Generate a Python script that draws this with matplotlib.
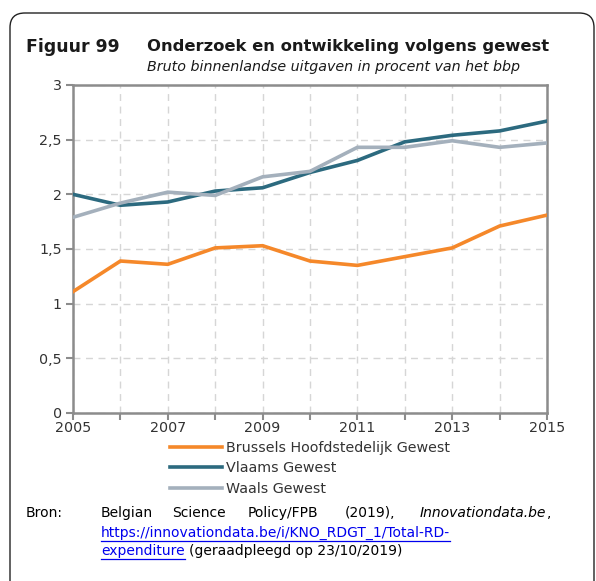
import matplotlib
matplotlib.use('Agg')
import matplotlib.pyplot as plt
from matplotlib.patches import FancyBboxPatch
from matplotlib.lines import Line2D
from matplotlib.ticker import MultipleLocator, FuncFormatter

years = [2005, 2006, 2007, 2008, 2009, 2010, 2011, 2012, 2013, 2014, 2015]
brussels = [1.11, 1.39, 1.36, 1.51, 1.53, 1.39, 1.35, 1.43, 1.51, 1.71, 1.81]
vlaams = [2.00, 1.90, 1.93, 2.03, 2.06, 2.20, 2.31, 2.48, 2.54, 2.58, 2.67]
waals = [1.79, 1.92, 2.02, 1.99, 2.16, 2.21, 2.43, 2.43, 2.49, 2.43, 2.47]
year_labels = [2005, 2007, 2009, 2011, 2013, 2015]
series_names = ['Brussels Hoofdstedelijk Gewest', 'Vlaams Gewest', 'Waals Gewest']
series_colors = ['#F5882A', '#2C6A7F', '#A4B0BC']

W, H = 596, 581
plt.rcParams['font.family'] = 'DejaVu Sans'

fig = plt.figure(figsize=(W / 100, H / 100), dpi=100)


def fx(px):
    return px / W


def fy(py):
    return 1 - py / H


# frame round the whole figure block
box = FancyBboxPatch((fx(10), fy(600)), fx(584), (600 - 13) / H,
                     boxstyle='round,pad=0,rounding_size=0.025',
                     transform=fig.transFigure, facecolor='none',
                     edgecolor='#222222', linewidth=1.0, clip_on=False)
fig.patches.append(box)

fig.text(fx(26), fy(47), 'Figuur 99', fontsize=12.4, fontweight='bold',
         va='center', ha='left', color='#1a1a1a')
fig.text(fx(147), fy(47), 'Onderzoek en ontwikkeling volgens gewest',
         fontsize=11.8, fontweight='bold', va='center', ha='left', color='#1a1a1a')
fig.text(fx(147), fy(67), 'Bruto binnenlandse uitgaven in procent van het bbp',
         fontsize=10.3, style='italic', va='center', ha='left', color='#1a1a1a')

ax = fig.add_axes([fx(73), fy(413), (547 - 73) / W, (413 - 85) / H])
data = [brussels, vlaams, waals]
handles = []
for vals, name, col in zip(data, series_names, series_colors):
    ln, = ax.plot(years, vals, color=col, linewidth=2.6, label=name,
                  solid_joinstyle='miter', zorder=3)
    handles.append(ln)

ax.set_xlim(2005, 2015)
ax.set_ylim(0, 3)
ax.set_xticks(year_labels)
ax.set_xticks(years, minor=True)
ax.yaxis.set_major_locator(MultipleLocator(0.5))
ax.yaxis.set_major_formatter(FuncFormatter(
    lambda v, p: ('%g' % v).replace('.', ',')))

ax.grid(True, which='both', axis='x', color='#D6D6D6', linestyle=(0, (5, 4)),
        linewidth=1.0, zorder=0)
ax.grid(True, which='major', axis='y', color='#D6D6D6', linestyle=(0, (5, 4)),
        linewidth=1.0, zorder=0)
for s in ax.spines.values():
    s.set_color('#8C8C8C')
    s.set_linewidth(1.8)
ax.tick_params(which='both', color='#8C8C8C', width=1.5, length=5,
               labelsize=10.3, labelcolor='#333333', direction='out')
ax.tick_params(axis='x', pad=1)
ax.tick_params(axis='y', pad=3)

fig.legend(handles, series_names, loc='upper left',
           bbox_to_anchor=(fx(170), fy(441)), frameon=False, fontsize=10.3,
           handlelength=3.6, handletextpad=0.3, labelspacing=0.45,
           borderaxespad=0, borderpad=0, labelcolor='#333333')

# source note, spread across the text width
src_y1, src_y2, src_y3 = 513, 533, 551
fig.text(fx(26), fy(src_y1), 'Bron:', fontsize=10, va='center', ha='left')
words = ['Belgian', 'Science', 'Policy/FPB', '(2019),']
word_x = [101, 172, 248, 345]
for wx, w in zip(word_x, words):
    fig.text(fx(wx), fy(src_y1), w, fontsize=10, va='center', ha='left')
fig.text(fx(551), fy(src_y1), ',', fontsize=10, va='center', ha='right')
fig.text(fx(546), fy(src_y1), 'Innovationdata.be', fontsize=10, style='italic',
         va='center', ha='right')

link1 = fig.text(fx(101), fy(src_y2), 'https://innovationdata.be/i/KNO_RDGT_1/Total-RD-',
                 fontsize=10, va='center', ha='left', color='#0000EE')
link2 = fig.text(fx(101), fy(src_y3), 'expenditure', fontsize=10, va='center',
                 ha='left', color='#0000EE')
fig.canvas.draw()
r = fig.canvas.get_renderer()
tail_x = 101
for t, yy in [(link1, src_y2), (link2, src_y3)]:
    bb = t.get_window_extent(renderer=r)
    fig.add_artist(Line2D([bb.x0 / W, bb.x1 / W], [fy(yy + 8), fy(yy + 8)],
                          transform=fig.transFigure, color='#0000EE', linewidth=0.9))
    tail_x = bb.x1
fig.text((tail_x + 4) / W, fy(src_y3), '(geraadpleegd op 23/10/2019)', fontsize=10,
         va='center', ha='left')

fig.savefig('out.png', dpi=100)
